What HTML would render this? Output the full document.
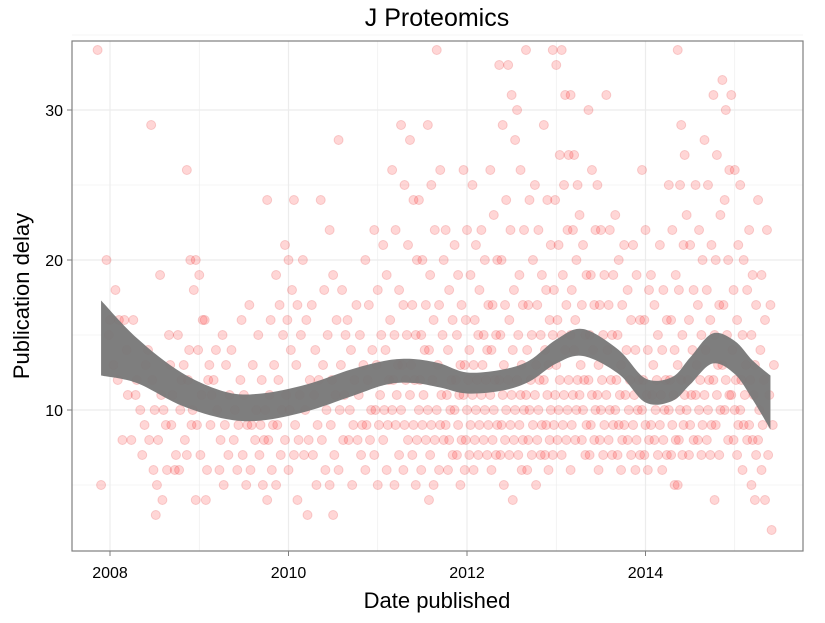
<!DOCTYPE html>
<html><head><meta charset="utf-8"><style>
body{margin:0;background:#fff;font-family:"Liberation Sans",sans-serif;}
svg text{font-family:"Liberation Sans",sans-serif;}
</style></head><body>
<svg id="chart" width="825" height="618">
<text x="437" y="26" font-size="25" text-anchor="middle">J Proteomics</text>
<g id="grid"></g><g id="pts"></g><g id="band"></g><g id="axes"></g>
<rect x="72" y="41" width="731" height="510" fill="none" stroke="#7f7f7f" stroke-width="1.2"/>
<text x="437" y="608" font-size="22" text-anchor="middle">Date published</text>
<text transform="translate(29,296) rotate(-90)" font-size="22" text-anchor="middle">Publication delay</text>
</svg>
<script>
const xTicks=[2008,2010,2012,2014];
const yTicks=[10,20,30];
const cols=[2007.9,2008.0,2008.1,2008.2,2008.3,2008.4,2008.5,2008.6,2008.7,2008.8,2008.9,2009.0,2009.1,2009.2,2009.3,2009.4,2009.5,2009.6,2009.7,2009.8,2009.9,2010.0,2010.1,2010.2,2010.3,2010.4,2010.5,2010.6,2010.7,2010.8,2010.9,2011.0,2011.1,2011.2,2011.3,2011.4,2011.5,2011.6,2011.7,2011.8,2011.9,2012.0,2012.1,2012.2,2012.3,2012.4,2012.5,2012.6,2012.7,2012.8,2012.9,2013.0,2013.1,2013.2,2013.3,2013.4,2013.5,2013.6,2013.7,2013.8,2013.9,2014.0,2014.1,2014.2,2014.3,2014.4,2014.5,2014.6,2014.7,2014.8,2014.9,2015.0,2015.1,2015.2,2015.3,2015.4];
const delays=[[34,5],[20,16,13,15],[18,16,8,12],[16,11,8,14],[16,12,10,11],[7,13,8,9,14],[29,10,8,6,5,12,3],[19,10,6,4,9,11],[15,11,7,9,6,13],[15,12,8,10,13,6],[26,20,18,14,10,12,9,7],[20,19,16,14,11,9,7,4],[16,12,11,6,9,4,13],[12,10,8,14,6],[15,13,11,9,7,5],[14,10,9,8,6],[12,11,9,7,5,16],[17,13,10,9,8,6],[15,12,10,9,8,7,5],[24,16,13,11,9,8,6,4],[19,17,15,12,10,9,7,5],[21,20,18,16,14,11,10,8,6],[24,17,15,13,11,9,8,7,4],[20,16,12,10,8,7,3],[17,14,12,11,9,7,5],[24,18,15,13,10,8,6],[22,19,16,12,11,9,7,5,3],[28,18,15,13,11,10,8,6],[16,14,12,10,9,8,5],[17,15,13,11,9,8,7],[20,17,14,12,10,9,8,6],[22,18,15,13,11,10,9,7,5],[21,19,16,14,12,10,9,8,6],[26,22,18,15,13,12,11,10,9,7,5],[29,25,21,17,15,13,12,10,9,8,6],[28,24,20,17,15,13,12,11,9,8,7,5],[24,20,17,15,14,12,11,10,9,8,6],[29,25,22,19,16,14,12,10,9,8,7,5,4],[34,26,20,17,15,13,11,10,9,8,6],[22,18,16,14,12,11,10,9,8,7,6],[21,19,17,15,13,12,11,10,9,8,7,5],[26,22,19,16,14,13,12,11,10,9,8,7,6],[25,21,18,16,15,13,12,11,10,9,8,7,6],[22,20,17,15,14,13,12,11,10,9,8,7],[26,23,20,17,15,14,12,11,10,9,8,7,6],[33,29,24,20,17,15,13,12,11,10,9,8,7,5],[33,31,28,22,18,16,14,12,11,10,9,8,7,4],[30,26,22,19,17,15,13,12,11,10,9,8,7,6],[34,24,20,17,15,14,12,11,10,9,8,7,6],[25,22,19,17,15,13,12,11,10,9,8,7,5],[29,24,21,18,16,14,13,12,11,10,9,8,7,6],[34,33,27,24,21,18,16,15,13,12,11,10,9,8,7],[34,31,27,25,22,19,17,15,14,12,11,10,9,8,7],[31,27,25,22,20,18,16,15,14,12,11,10,9,8,6],[23,21,19,17,15,13,12,11,10,9,8,7],[30,26,22,19,17,15,14,12,11,10,9,8,7],[25,22,19,17,15,13,12,11,10,9,8,7,6],[31,22,19,17,15,14,12,11,10,9,8,7],[23,20,17,15,13,12,11,10,9,8,7,6],[21,18,16,14,12,11,10,9,8,7],[21,19,16,14,12,11,10,9,8,7,6],[26,22,18,16,14,12,11,10,9,8,7,6],[19,17,15,13,12,11,10,9,8,7],[21,18,16,14,12,11,10,9,8,7,6],[25,22,19,16,14,12,11,10,9,8,7,5],[34,29,27,25,21,18,15,13,12,11,10,9,8,7,5],[23,21,18,16,14,12,11,10,9,8,7],[25,22,20,17,15,13,12,11,10,9,8,7],[28,25,21,18,16,14,12,11,10,9,8,7],[31,27,23,20,17,15,13,12,11,10,9,7,4],[32,30,26,24,20,17,15,13,12,11,10,8],[31,26,21,18,16,14,12,11,10,9,8,7],[25,20,18,15,13,12,11,10,9,8,6],[22,19,17,15,13,12,11,9,8,7,5,4],[24,19,16,14,12,10,9,8,6,4],[22,17,13,11,9,7,2]];
const bandX=[2007.9,2008.3,2008.8,2009.3,2009.7,2010.2,2010.7,2011.1,2011.4,2011.7,2012.0,2012.4,2012.7,2013.0,2013.3,2013.7,2014.0,2014.3,2014.5,2014.75,2015.0,2015.2,2015.4];
const bandMid=[14.8,13.3,11.4,10.3,10.2,10.8,11.8,12.5,12.6,12.3,11.8,12.0,12.6,13.9,14.5,13.2,11.3,11.4,12.6,14.1,13.5,12.0,10.5];
const bandHalf=[2.5,1.5,1.1,0.9,0.9,0.9,0.9,0.8,0.8,0.8,0.7,0.7,0.7,0.8,0.9,0.8,0.8,0.8,0.9,1.0,1.1,1.3,1.8];

const NS="http://www.w3.org/2000/svg";
const X=v=>110+(v-2008)*89.25;
const Y=v=>560-v*15;
function mk(tag,attrs,parent){const e=document.createElementNS(NS,tag);for(const k in attrs)e.setAttribute(k,attrs[k]);parent.appendChild(e);return e;}
const grid=document.getElementById('grid'),axes=document.getElementById('axes'),pts=document.getElementById('pts'),band=document.getElementById('band');
for(let v=2008;v<=2015;v++){const l=mk('line',{x1:X(v),x2:X(v),y1:41,y2:551,stroke:'#ececec','stroke-width':v%2===0?1.2:0.6},grid);

}
for(let v=5;v<=35;v+=5){const l=mk('line',{x1:72,x2:803,y1:Y(v),y2:Y(v),stroke:'#ececec','stroke-width':v%10===0?1.2:0.6},grid);

}
xTicks.forEach(v=>{mk('line',{x1:X(v),x2:X(v),y1:551,y2:556,stroke:'#7f7f7f'},axes);
const t=mk('text',{x:X(v),y:578,'font-size':16,'text-anchor':'middle'},axes);t.textContent=v;

});
yTicks.forEach(v=>{mk('line',{x1:67,x2:72,y1:Y(v),y2:Y(v),stroke:'#7f7f7f'},axes);
const t=mk('text',{x:63,y:Y(v)+6,'font-size':16,'text-anchor':'end'},axes);t.textContent=v;

});
cols.forEach((c,i)=>{(delays[i]||[]).forEach((d,k)=>{
const p=mk('circle',{cx:X(c+((k*3)%7-3)*0.013),cy:Y(d),r:4.5,fill:'rgba(255,0,0,0.16)',stroke:'rgba(210,0,0,0.16)'},pts);

});});
function curve(P,start){let s=start?'M'+P[0][0]+','+P[0][1]:'L'+P[0][0]+','+P[0][1];
for(let i=0;i<P.length-1;i++){const p0=P[Math.max(i-1,0)],p1=P[i],p2=P[i+1],p3=P[Math.min(i+2,P.length-1)];
s+='C'+(p1[0]+(p2[0]-p0[0])/6)+','+(p1[1]+(p2[1]-p0[1])/6)+' '+(p2[0]-(p3[0]-p1[0])/6)+','+(p2[1]-(p3[1]-p1[1])/6)+' '+p2[0]+','+p2[1];}
return s;}
const upperEdge=bandX.map((x,i)=>[X(x),Y(bandMid[i]+bandHalf[i])]);
const lowerEdge=bandX.map((x,i)=>[X(x),Y(bandMid[i]-bandHalf[i])]).reverse();
const b=mk('path',{d:curve(upperEdge,true)+curve(lowerEdge,false)+'Z',fill:'#777','fill-opacity':0.95},band);


</script>
</body></html>
